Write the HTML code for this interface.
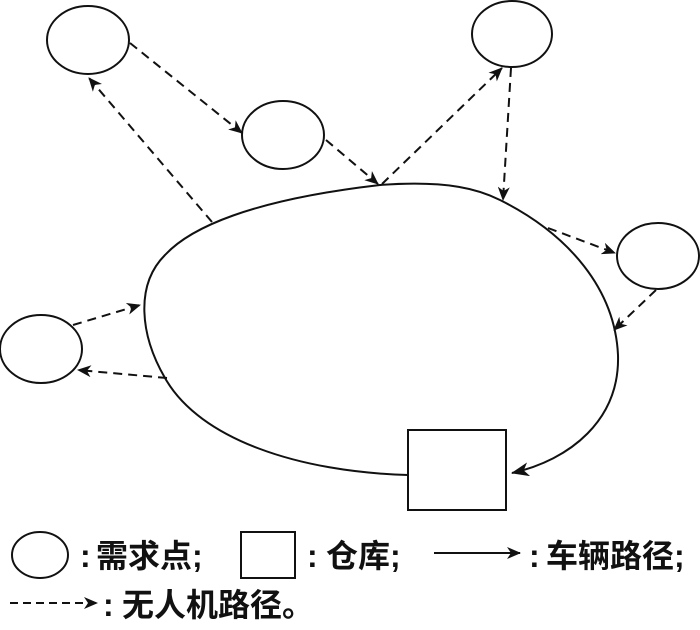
<!DOCTYPE html>
<html><head><meta charset="utf-8"><style>
body{margin:0;background:#fff;width:700px;height:625px;overflow:hidden}
text{font-family:"Liberation Sans","Noto Sans CJK SC",sans-serif;font-size:32px;fill:#111;font-weight:bold}
</style></head><body>
<svg width="700" height="625" viewBox="0 0 700 625" xmlns="http://www.w3.org/2000/svg">
<defs>
<marker id="a" viewBox="0 0 14 12" refX="13" refY="6" markerWidth="14" markerHeight="12" markerUnits="userSpaceOnUse" orient="auto">
<path d="M0,0 L14,6 L0,12 L4,6 Z" fill="#111"/></marker>
<marker id="b" viewBox="0 0 18 14" refX="17" refY="7" markerWidth="18" markerHeight="14" markerUnits="userSpaceOnUse" orient="auto">
<path d="M0,0 L18,7 L0,14 L5,7 Z" fill="#111"/></marker>
</defs>
<g fill="none" stroke="#111" stroke-width="2">
<ellipse cx="88" cy="40" rx="41" ry="34"/>
<ellipse cx="283" cy="135" rx="41" ry="34"/>
<ellipse cx="512" cy="34" rx="40" ry="33"/>
<ellipse cx="658" cy="256" rx="41" ry="33"/>
<ellipse cx="41" cy="349" rx="41" ry="34"/>
<rect x="408" y="430" width="98" height="80"/>
<path d="M408,475 C300,472 200,440 165,378 C140,335 135,285 165,255 C190,228 250,200 380,185 C450,180 480,190 500,200 C570,235 615,290 618,355 C620,420 570,460 512,473" marker-end="url(#b)"/>
</g>
<g fill="none" stroke="#111" stroke-width="2" stroke-dasharray="9,6" marker-end="url(#a)">
<path d="M212,222 L89,78"/>
<path d="M130,43 L242,133"/>
<path d="M326,140 L378,184"/>
<path d="M382,184 L502,68"/>
<path d="M511,68 L503,200"/>
<path d="M548,228 L615,253"/>
<path d="M656,290 L614,330"/>
<path d="M73,325 L140,305"/>
<path d="M167,378 L78,370"/>
</g>
<g fill="none" stroke="#111" stroke-width="2">
<ellipse cx="40" cy="555" rx="28" ry="23"/>
<rect x="241" y="532" width="54" height="46"/>
<path d="M434,553 L520,553" marker-end="url(#a)"/>
<path d="M10,603 L97,603" stroke-dasharray="8,5" marker-end="url(#a)"/>
</g>
<text x="80" y="567">:</text><text x="96" y="567">需求点;</text>
<text x="307" y="567">:</text><text x="326" y="567">仓库;</text>
<text x="529" y="567">:</text><text x="546" y="567">车辆路径;</text>
<text x="103" y="616">:</text><text x="122" y="616">无人机路径。</text>
</svg>
</body></html>
